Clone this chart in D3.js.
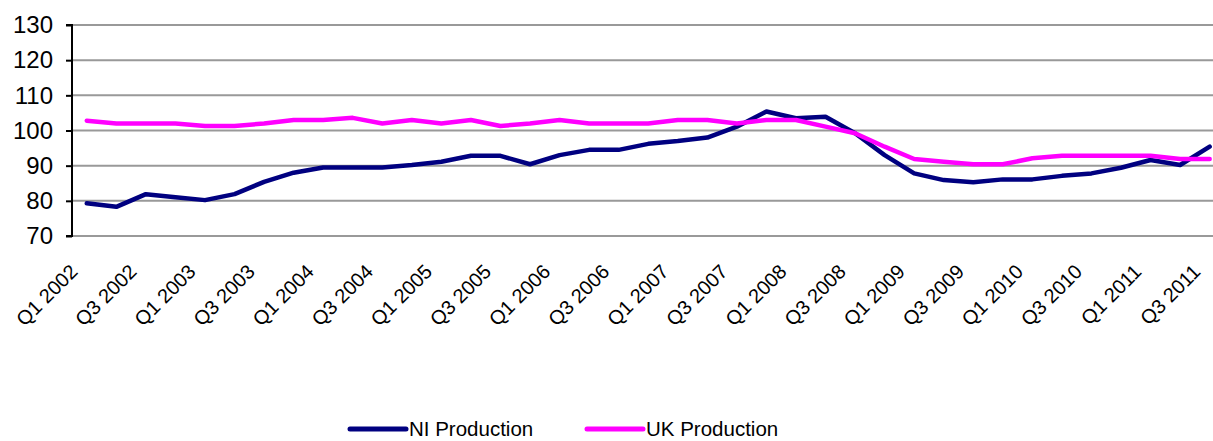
<!DOCTYPE html>
<html><head><meta charset="utf-8">
<script src="https://cdn.jsdelivr.net/npm/d3@7"></script>
<style>body{margin:0;background:#fff;overflow:hidden}svg{display:block;font-family:"Liberation Sans",Arial,sans-serif}</style>
</head><body>
<svg id="c" width="1213" height="441"></svg>
<script>
const quarters = [];
const years = [2002,2003,2004,2005,2006,2007,2008,2009,2010,2011];
years.forEach(y => ["Q1","Q2","Q3","Q4"].forEach(q => quarters.push(q + " " + y)));
const categories = quarters.slice(0, 39);
const niProduction = [79.3,78.3,81.9,81.0,80.2,81.9,85.4,88.0,89.5,89.5,89.5,90.2,91.1,92.8,92.8,90.4,93.0,94.5,94.5,96.2,97.0,98.0,101.1,105.4,103.5,103.9,99.2,93.0,87.8,85.9,85.3,86.1,86.1,87.1,87.8,89.4,91.6,90.2,95.4];
const ukProduction = [102.8,102.0,102.0,102.0,101.3,101.3,102.0,103.0,103.0,103.6,102.0,103.0,102.0,103.0,101.3,102.0,103.0,102.0,102.0,102.0,103.0,103.0,102.0,103.0,103.0,101.1,99.2,95.4,91.9,91.1,90.4,90.4,92.1,92.8,92.8,92.8,92.8,91.9,91.9];
const yTicks = [70,80,90,100,110,120,130];
const seriesNames = ["NI Production","UK Production"];
const seriesColors = ["#000080","#FF00FF"];

const svg = d3.select("#c");
const mLeft = 72, mTop = 25, mBottom = 236;
const bw = 29.55;
const x = d3.scaleBand().domain(categories).range([mLeft, mLeft + bw * categories.length]).paddingInner(0).paddingOuter(0);
const cx = d => x(d) + x.bandwidth() / 2;
const y = d3.scaleLinear().domain([70,130]).range([mBottom, mTop]);

// gridlines
svg.append("g").selectAll("line").data(yTicks).join("line")
  .attr("x1", mLeft).attr("x2", 1213)
  .attr("y1", d => y(d)).attr("y2", d => y(d))
  .attr("stroke", "#999").attr("stroke-width", 2);

// y axis
const ya = svg.append("g").attr("transform", `translate(${mLeft},0)`)
  .call(d3.axisLeft(y).tickValues(yTicks).tickSize(6).tickPadding(13));
ya.select(".domain").attr("stroke", "#000").attr("stroke-width", 2).attr("d", `M-6,${y(130)}H0V${y(70)}H-6`);
ya.selectAll(".tick line").attr("stroke", "#000").attr("stroke-width", 2);
ya.selectAll("text").attr("font-size", 24).attr("fill", "#000").attr("font-family", "Liberation Sans, Arial, sans-serif");

// x labels
const labels = categories.filter((d, i) => i % 2 === 0);
svg.append("g").selectAll("text").data(labels).join("text")
  .attr("transform", d => `translate(${cx(d) - 8},${273}) rotate(-45)`)
  .attr("text-anchor", "end")
  .attr("font-size", 20).attr("fill", "#000")
  .text(d => d);

// lines
const line = d3.line().x((d, i) => cx(categories[i])).y(d => y(d));
[niProduction, ukProduction].forEach((s, k) => {
  svg.append("path").datum(s).attr("d", line)
    .attr("fill", "none").attr("stroke", seriesColors[k]).attr("stroke-width", 4.5)
    .attr("stroke-linejoin", "round").attr("stroke-linecap", "round");
});

// legend
const legX = [350, 587];
seriesNames.forEach((n, k) => {
  svg.append("line").attr("x1", legX[k]).attr("x2", legX[k] + 56).attr("y1", 429).attr("y2", 429)
    .attr("stroke", seriesColors[k]).attr("stroke-width", 5).attr("stroke-linecap", "round");
  svg.append("text").attr("x", legX[k] + 59).attr("y", 436).attr("font-size", 20.5).attr("fill", "#000").text(n);
});
</script>
</body></html>
